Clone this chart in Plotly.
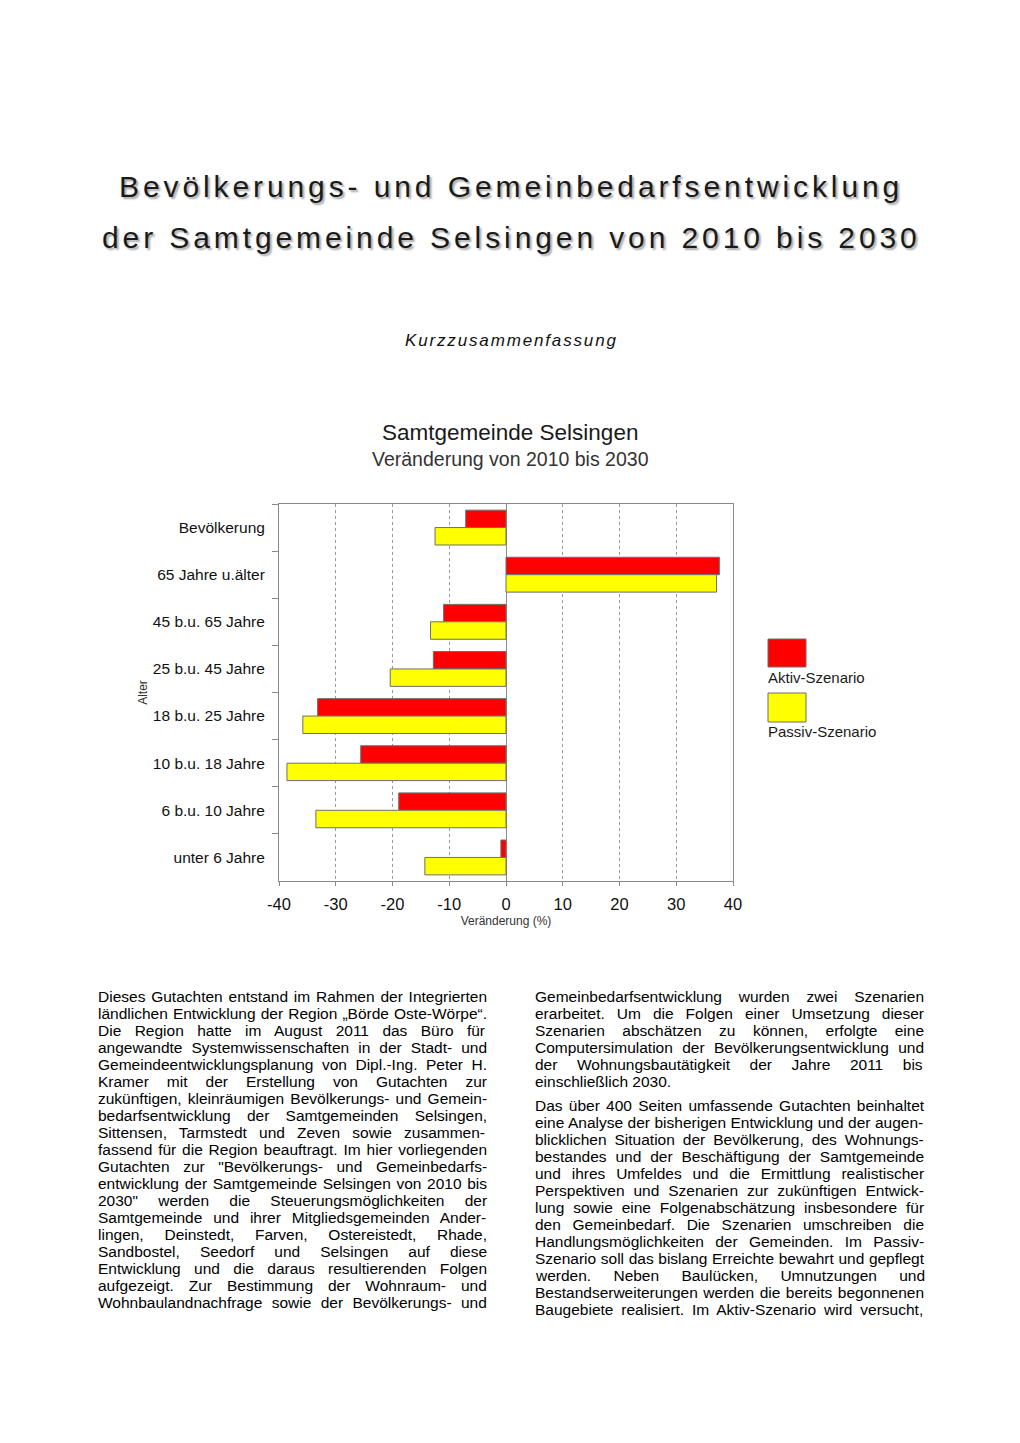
import plotly.graph_objects as go

# ---------------- data ----------------
categories = ["Bevölkerung", "65 Jahre u.älter", "45 b.u. 65 Jahre", "25 b.u. 45 Jahre",
              "18 b.u. 25 Jahre", "10 b.u. 18 Jahre", "6 b.u. 10 Jahre", "unter 6 Jahre"]
aktiv = [-7.1, 37.6, -11.0, -12.8, -33.2, -25.6, -18.9, -0.9]
passiv = [-12.5, 37.1, -13.3, -20.4, -35.8, -38.6, -33.5, -14.3]
x_ticks = [-40, -30, -20, -10, 0, 10, 20, 30, 40]

title_lines = ["Bevölkerungs- und Gemeinbedarfsentwicklung",
               "der Samtgemeinde Selsingen von 2010 bis 2030"]
subtitle = "Kurzzusammenfassung"
chart_title = "Samtgemeinde Selsingen"
chart_subtitle = "Veränderung von 2010 bis 2030"

left_col = [
    ("Dieses Gutachten entstand im Rahmen der Integrierten", True),
    ("ländlichen Entwicklung der Region „Börde Oste-Wörpe“.", True),
    ("Die Region hatte im August 2011 das Büro für", True),
    ("angewandte Systemwissenschaften in der Stadt- und", True),
    ("Gemeindeentwicklungsplanung von Dipl.-Ing. Peter H.", True),
    ("Kramer mit der Erstellung von Gutachten zur", True),
    ("zukünftigen, kleinräumigen Bevölkerungs- und Gemein-", True),
    ("bedarfsentwicklung der Samtgemeinden Selsingen,", True),
    ("Sittensen, Tarmstedt und Zeven sowie zusammen-", True),
    ("fassend für die Region beauftragt. Im hier vorliegenden", True),
    ("Gutachten zur \"Bevölkerungs- und Gemeinbedarfs-", True),
    ("entwicklung der Samtgemeinde Selsingen von 2010 bis", True),
    ("2030\" werden die Steuerungsmöglichkeiten der", True),
    ("Samtgemeinde und ihrer Mitgliedsgemeinden Ander-", True),
    ("lingen, Deinstedt, Farven, Ostereistedt, Rhade,", True),
    ("Sandbostel, Seedorf und Selsingen auf diese", True),
    ("Entwicklung und die daraus resultierenden Folgen", True),
    ("aufgezeigt. Zur Bestimmung der Wohnraum- und", True),
    ("Wohnbaulandnachfrage sowie der Bevölkerungs- und", True),
]
right_par1 = [
    ("Gemeinbedarfsentwicklung wurden zwei Szenarien", True),
    ("erarbeitet. Um die Folgen einer Umsetzung dieser", True),
    ("Szenarien abschätzen zu können, erfolgte eine", True),
    ("Computersimulation der Bevölkerungsentwicklung und", True),
    ("der Wohnungsbautätigkeit der Jahre 2011 bis", True),
    ("einschließlich 2030.", False),
]
right_par2 = [
    ("Das über 400 Seiten umfassende Gutachten beinhaltet", True),
    ("eine Analyse der bisherigen Entwicklung und der augen-", True),
    ("blicklichen Situation der Bevölkerung, des Wohnungs-", True),
    ("bestandes und der Beschäftigung der Samtgemeinde", True),
    ("und ihres Umfeldes und die Ermittlung realistischer", True),
    ("Perspektiven und Szenarien zur zukünftigen Entwick-", True),
    ("lung sowie eine Folgenabschätzung insbesondere für", True),
    ("den Gemeinbedarf. Die Szenarien umschreiben die", True),
    ("Handlungsmöglichkeiten der Gemeinden. Im Passiv-", True),
    ("Szenario soll das bislang Erreichte bewahrt und gepflegt", True),
    ("werden. Neben Baulücken, Umnutzungen und", True),
    ("Bestandserweiterungen werden die bereits begonnenen", True),
    ("Baugebiete realisiert. Im Aktiv-Szenario wird versucht,", True),
]

# ---------------- layout helpers ----------------
OFF = 8  # default page body margin
W, H = 1020 - 2 * OFF, 1443 - 2 * OFF
PL, PR, PT, PB = 279, 733, 504, 881  # plot area in page pixels
FONT = "Liberation Sans, Arial, Helvetica, sans-serif"


def px(x):
    return (x - PL) / (PR - PL)


def py(y):
    return (PB - y) / (PB - PT)


# Arial / Liberation Sans advance widths (1/1000 em) for justification
AW = {' ': 278, '!': 278, '"': 355, "'": 191, '(': 333, ')': 333, ',': 278, '-': 333, '.': 278,
      '/': 278, ':': 278, ';': 278, '„': 333, '“': 333, '%': 889}
for c in "0123456789":
    AW[c] = 556
for c, w in zip("ABCDEFGHIJKLMNOPQRSTUVWXYZ",
                [667, 667, 722, 722, 667, 611, 778, 722, 278, 500, 667, 556, 833, 722, 778, 667, 778,
                 722, 667, 611, 722, 667, 944, 667, 667, 611]):
    AW[c] = w
for c, w in zip("abcdefghijklmnopqrstuvwxyz",
                [556, 556, 500, 556, 556, 278, 556, 556, 222, 222, 500, 222, 833, 556, 556, 556, 556,
                 333, 500, 278, 556, 500, 722, 500, 500, 500]):
    AW[c] = w
AW.update({'ä': 556, 'ö': 556, 'ü': 556, 'Ä': 667, 'Ö': 778, 'Ü': 722, 'ß': 611})

BODY_SIZE = 15.5
COL_W = 389


def justified(text, justify):
    if not justify:
        return text
    nat = sum(AW.get(c, 556) for c in text) * BODY_SIZE / 1000.0
    n = text.count(' ')
    extra = max(0.0, (COL_W - nat) / n) if n else 0.0
    return '<span style="word-spacing:%.2fpx">%s</span>' % (extra, text)


# ---------------- figure ----------------
fig = go.Figure()
fig.add_trace(go.Bar(y=categories, x=aktiv, orientation="h", name="Aktiv-Szenario",
                     marker=dict(color="#FF0000", line=dict(color="#6e6e6e", width=1))))
fig.add_trace(go.Bar(y=categories, x=passiv, orientation="h", name="Passiv-Szenario",
                     marker=dict(color="#FFFF00", line=dict(color="#6e6e6e", width=1))))

annotations = []
# page title
for i, line in enumerate(title_lines):
    annotations.append(dict(
        text='<span style="letter-spacing:3.9px">%s</span>' % line,
        x=px(511), y=py(186 + 51 * i), xref="paper", yref="paper",
        xanchor="center", yanchor="middle", showarrow=False,
        font=dict(family=FONT, size=30, color="#1a1a1a",
                  shadow="2px 2px 2px rgba(0,0,0,0.35)")))
annotations.append(dict(
    text='<span style="letter-spacing:1.85px"><i>%s</i></span>' % subtitle,
    x=px(511), y=py(340), xref="paper", yref="paper", xanchor="center", yanchor="middle",
    showarrow=False, font=dict(family=FONT, size=17, color="#111111")))
# chart titles
annotations.append(dict(text=chart_title, x=px(510), y=py(432), xref="paper", yref="paper",
                        xanchor="center", yanchor="middle", showarrow=False,
                        font=dict(family=FONT, size=22.5, color="#1a1a1a")))
annotations.append(dict(text=chart_subtitle, x=px(510), y=py(459), xref="paper", yref="paper",
                        xanchor="center", yanchor="middle", showarrow=False,
                        font=dict(family=FONT, size=19.5, color="#333333")))
# legend labels
for label, ycen in [("Aktiv-Szenario", 677), ("Passiv-Szenario", 731)]:
    annotations.append(dict(text=label, x=px(767), y=py(ycen), xref="paper", yref="paper",
                            xanchor="left", yanchor="middle", showarrow=False, borderpad=0,
                            font=dict(family=FONT, size=15, color="#1a1a1a")))


# body text
def add_lines(lines, x0, y0):
    for i, (t, j) in enumerate(lines):
        annotations.append(dict(text=justified(t, j), x=px(x0), y=py(y0 + 17 * i),
                                xref="paper", yref="paper", xanchor="left", yanchor="middle",
                                showarrow=False, borderpad=0, borderwidth=0,
                                font=dict(family=FONT, size=BODY_SIZE, color="#000000")))


add_lines(left_col, 98, 996)
add_lines(right_par1, 535, 996)
add_lines(right_par2, 535, 1105)

shapes = [
    dict(type="rect", xref="paper", yref="paper", x0=px(768), x1=px(806), y0=py(667), y1=py(639),
         fillcolor="#FF0000", line=dict(color="#6e6e6e", width=1)),
    dict(type="rect", xref="paper", yref="paper", x0=px(768), x1=px(806), y0=py(722), y1=py(693),
         fillcolor="#FFFF00", line=dict(color="#6e6e6e", width=1)),
]

fig.update_layout(
    width=W, height=H,
    margin=dict(l=PL - OFF, r=W - (PR - OFF), t=PT - OFF, b=H - (PB - OFF), pad=0),
    paper_bgcolor="white", plot_bgcolor="white",
    barmode="group", bargap=0.26, bargroupgap=0,
    showlegend=False,
    font=dict(family=FONT, color="#1a1a1a"),
    annotations=annotations, shapes=shapes,
)
fig.update_xaxes(range=[-40, 40], tickvals=x_ticks, ticktext=[str(v) for v in x_ticks],
                 showgrid=True, gridcolor="#9a9a9a", griddash="dot", gridwidth=1,
                 zeroline=True, zerolinecolor="#8a8a8a", zerolinewidth=1,
                 showline=True, linecolor="#8a8a8a", linewidth=1, mirror=True,
                 ticks="outside", ticklen=4, tickcolor="#8a8a8a", ticklabelstandoff=4,
                 tickfont=dict(size=16.5, color="#111111"),
                 title=dict(text="Veränderung (%)", font=dict(size=12, color="#333333"), standoff=4))
fig.update_yaxes(categoryorder="array", categoryarray=categories, autorange="reversed",
                 showline=True, linecolor="#8a8a8a", linewidth=1, mirror=True,
                 ticks="outside", ticklen=6, tickcolor="#8a8a8a", tickson="boundaries",
                 ticklabelstandoff=10, showgrid=False,
                 tickfont=dict(size=15.5, color="#111111"),
                 title=dict(text="Alter", font=dict(size=12, color="#333333"), standoff=2))

fig.write_html("out.html")
